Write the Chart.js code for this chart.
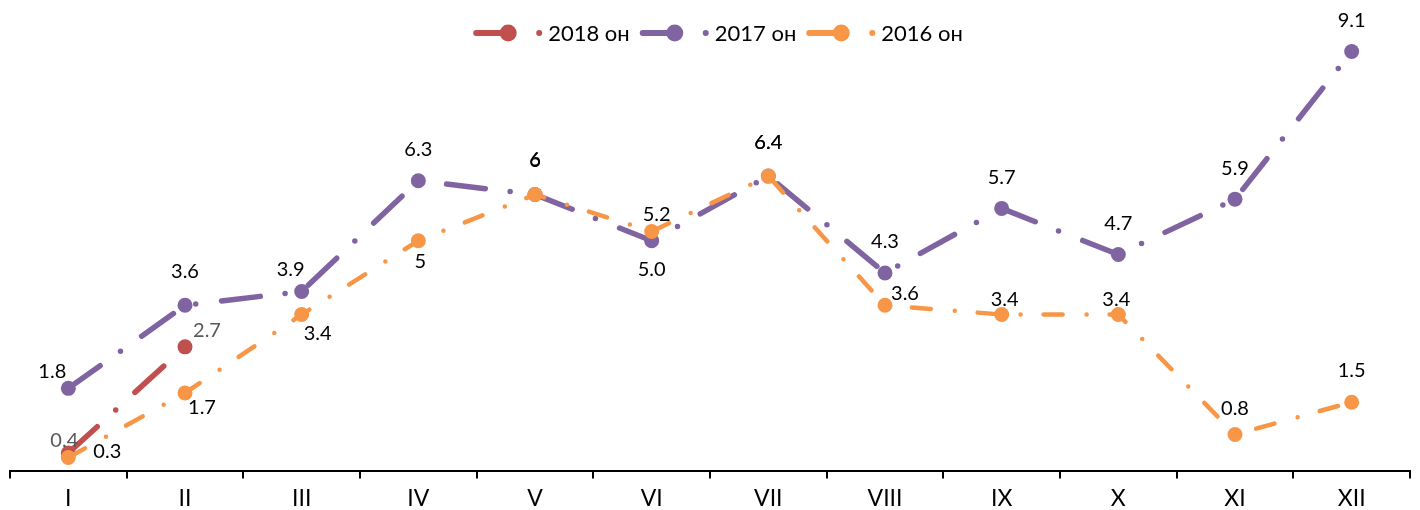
<!DOCTYPE html>
<html>
<head>
<meta charset="utf-8">
<script src="https://cdn.jsdelivr.net/npm/chart.js@4"></script>
<style>
  html, body { margin: 0; padding: 0; background: #fff; }
  #wrap { width: 1420px; height: 510px; }
</style>
</head>
<body>
<div id="wrap"><canvas id="chart"></canvas></div>
<script>
const months = ['I', 'II', 'III', 'IV', 'V', 'VI', 'VII', 'VIII', 'IX', 'X', 'XI', 'XII'];

const values2018 = [0.4, 2.7, null, null, null, null, null, null, null, null, null, null];
const values2017 = [1.8, 3.6, 3.9, 6.3, 6.0, 5.0, 6.4, 4.3, 5.7, 4.7, 5.9, 9.1];
const values2016 = [0.3, 1.7, 3.4, 5.0, 6.0, 5.2, 6.4, 3.6, 3.4, 3.4, 0.8, 1.5];

const text2018 = ['0.4', '2.7'];
const text2017 = ['1.8', '3.6', '3.9', '6.3', '6', '5.0', '6.4', '4.3', '5.7', '4.7', '5.9', '9.1'];
const text2016 = ['0.3', '1.7', '3.4', '5', '6', '5.2', '6.4', '3.6', '3.4', '3.4', '0.8', '1.5'];

// where each value label sits, relative to its point
const place2018 = [[-4, -12], [22, -16]];
const place2017 = [[-16, -17], [0, -34], [-11, -22], [0, -31], [0, -34], [0, 29], [0, -34], [0, -31], [0, -31], [0, -31], [0, -31], [0, -31]];
const place2016 = [[39, -6], [17, 15], [16, 19], [2, 21], [0, -35], [5, -17], [0, -34], [20, -12], [3, -15], [-2, -15], [0, -26], [0, -32]];

const FONT = 'Lato, "Open Sans", sans-serif';

function series(label, data, color, order, width, dash, texts, places, textColor) {
    return {
        label, data, order,
        borderColor: color,
        backgroundColor: color,
        borderWidth: width,
        borderDash: dash,
        borderCapStyle: 'round',
        pointRadius: 7.5,
        pointHoverRadius: 7.5,
        pointBorderWidth: 0,
        spanGaps: false,
        tension: 0,
        texts, places, textColor
    };
}

const valueLabels = {
    id: 'valueLabels',
    afterDatasetsDraw(chart) {
        const ctx = chart.ctx;
        ctx.save();
        ctx.font = '20px ' + FONT;
        ctx.textAlign = 'center';
        ctx.textBaseline = 'middle';
        chart.data.datasets.forEach((ds, i) => {
            const meta = chart.getDatasetMeta(i);
            ctx.fillStyle = ds.textColor;
            meta.data.forEach((pt, j) => {
                if (ds.data[j] == null || !ds.texts[j]) return;
                const off = ds.places[j];
                ctx.fillText(ds.texts[j], pt.x + off[0], pt.y + off[1]);
            });
        });
        ctx.restore();
    }
};

const lineLegend = {
    id: 'lineLegend',
    afterDraw(chart) {
        const ctx = chart.ctx;
        ctx.save();
        ctx.font = '22px ' + FONT;
        ctx.textBaseline = 'middle';
        const y = 33;
        const items = chart.data.datasets.map(ds => ({
            ds, w: 75 + ctx.measureText(ds.label).width
        }));
        const gap = 10;
        const total = items.reduce((s, it) => s + it.w, 0) + gap * (items.length - 1);
        let x = 718 - total / 2;
        items.forEach(it => {
            const c = it.ds.borderColor;
            ctx.strokeStyle = c;
            ctx.fillStyle = c;
            ctx.lineWidth = 6;
            ctx.lineCap = 'round';
            ctx.beginPath();
            ctx.moveTo(x + 3, y);
            ctx.lineTo(x + 35, y);
            ctx.stroke();
            ctx.beginPath();
            ctx.arc(x + 35, y, 8.5, 0, Math.PI * 2);
            ctx.fill();
            ctx.beginPath();
            ctx.arc(x + 66, y, 3, 0, Math.PI * 2);
            ctx.fill();
            ctx.fillStyle = '#000';
            ctx.fillText(it.ds.label, x + 75, y + 1);
            x += it.w + gap;
        });
        ctx.restore();
    }
};

new Chart(document.getElementById('chart'), {
    type: 'line',
    data: {
        labels: months,
        datasets: [
            series('2018 он', values2018, '#c0504d', 3, 5.5, [39, 25, 0, 26], text2018, place2018, '#595959'),
            series('2017 он', values2017, '#8064a2', 2, 5.5, [39, 25, 0, 26], text2017, place2017, '#000'),
            series('2016 он', values2016, '#f79646', 1, 4.5, [19, 24, 0, 23], text2016, place2016, '#000')
        ]
    },
    options: {
        responsive: true,
        maintainAspectRatio: false,
        animation: false,
        layout: { padding: { left: 10, right: 10, top: 10, bottom: -8 } },
        plugins: {
            legend: { display: false },
            tooltip: { enabled: false }
        },
        scales: {
            x: {
                offset: true,
                border: { color: '#000', width: 2 },
                grid: {
                    offset: true,
                    drawOnChartArea: false,
                    drawTicks: true,
                    tickLength: 7,
                    color: '#000',
                    lineWidth: 2
                },
                ticks: {
                    color: '#000',
                    padding: 6,
                    font: { family: FONT, size: 23 }
                }
            },
            y: {
                display: false,
                min: 0,
                max: 10
            }
        }
    },
    plugins: [valueLabels, lineLegend]
});
</script>
</body>
</html>
